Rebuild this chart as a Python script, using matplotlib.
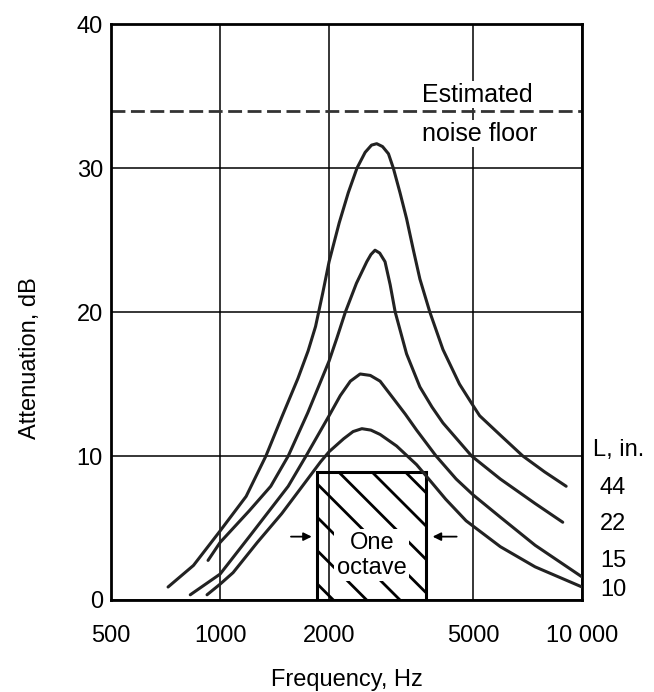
import matplotlib
matplotlib.use("Agg")
import matplotlib.pyplot as plt
from matplotlib.patches import Rectangle
from matplotlib.ticker import FixedLocator, FixedFormatter, NullLocator
import matplotlib.transforms as mtransforms

# curves: frequency (Hz) / attenuation (dB)
f44 = [718, 844, 1000, 1180, 1338, 1480, 1641, 1750, 1835, 1920, 2000, 2133, 2260,
       2388, 2516, 2620, 2708, 2810, 2918, 3010, 3140, 3274, 3420, 3564, 3797,
       4127, 4584, 5000, 5212, 5975, 6862, 7878, 9038]
d44 = [0.9, 2.4, 4.8, 7.2, 10.0, 12.7, 15.4, 17.3, 19.0, 21.3, 23.5, 26.2, 28.3,
       30.0, 31.1, 31.6, 31.7, 31.5, 31.0, 30.0, 28.3, 26.5, 24.3, 22.3, 20.0,
       17.4, 15.0, 13.5, 12.8, 11.4, 10.0, 8.9, 7.9]

f22 = [926, 1000, 1204, 1380, 1542, 1746, 2000, 2102, 2218, 2380, 2542, 2610, 2679,
       2760, 2855, 2950, 3046, 3274, 3564, 3850, 4127, 4953, 5947, 7419, 8843]
d22 = [2.75, 4.0, 6.2, 7.9, 10.0, 13.0, 16.6, 18.2, 20.0, 22.0, 23.5, 24.0, 24.3,
       24.1, 23.5, 21.9, 20.0, 17.1, 14.8, 13.4, 12.3, 10.0, 8.4, 6.7, 5.4]

f15 = [827, 1000, 1204, 1542, 1727, 2000, 2148, 2290, 2437, 2600, 2767, 3010,
       3250, 3490, 3951, 4490, 5000, 5947, 7419, 10000]
d15 = [0.36, 1.8, 4.4, 7.9, 10.0, 12.8, 14.2, 15.2, 15.7, 15.6, 15.2, 14.0,
       12.9, 11.8, 10.0, 8.4, 7.3, 5.75, 3.8, 1.6]

f10 = [920, 1000, 1086, 1267, 1480, 1675, 1895, 2000, 2194, 2330, 2464, 2610,
       2767, 3072, 3490, 3714, 4200, 4782, 5947, 7419, 10000]
d10 = [0.36, 1.1, 1.9, 4.0, 6.0, 7.8, 9.6, 10.3, 11.2, 11.7, 11.9, 11.8,
       11.5, 10.7, 9.4, 8.6, 7.0, 5.5, 3.7, 2.3, 0.9]

curve_labels = ["44", "22", "15", "10"]
label_levels = [7.8, 5.25, 2.7, 0.7]

noise_floor = 34.0
octave_band = [1850, 3700]
octave_height = 8.9

xticks = [500, 1000, 2000, 5000, 10000]
xticklabels = ["500", "1000", "2000", "5000", "10 000"]
yticks = [0, 10, 20, 30, 40]


def main():
    plt.rcParams["font.family"] = ["Liberation Sans", "DejaVu Sans"]
    plt.rcParams["hatch.linewidth"] = 2.0

    fig = plt.figure(figsize=(6.54, 6.92), dpi=100)
    ax = fig.add_axes([0.170, 0.133, 0.720, 0.832])

    ax.set_xscale("log")
    ax.set_xlim(500, 10000)
    ax.set_ylim(0, 40)

    ax.xaxis.set_major_locator(FixedLocator(xticks))
    ax.xaxis.set_major_formatter(FixedFormatter(xticklabels))
    ax.xaxis.set_minor_locator(NullLocator())
    ax.set_yticks(yticks)
    ax.tick_params(axis="both", length=0, labelsize=17)
    ax.tick_params(axis="x", pad=18)
    ax.tick_params(axis="y", pad=6)

    ax.grid(True, color="black", lw=1.1)
    ax.set_axisbelow(True)
    for sp in ax.spines.values():
        sp.set_linewidth(2)

    # noise floor
    ax.axhline(noise_floor, color="#333333", lw=2, ls=(0, (5, 2)))
    box = dict(facecolor="white", edgecolor="none", pad=1)
    ax.text(3623, 35.1, "Estimated", fontsize=18, ha="left", va="center",
            bbox=box, zorder=3)
    ax.text(3623, 32.4, "noise floor", fontsize=18, ha="left", va="center",
            bbox=box, zorder=3)

    # octave band
    ax.add_patch(Rectangle((octave_band[0], 0), octave_band[1] - octave_band[0],
                           octave_height, fill=False, hatch="\\", lw=2.2,
                           edgecolor="black", zorder=2))
    ax.text(2624, 3.1, "One\noctave", fontsize=17, ha="center", va="center",
            multialignment="center", linespacing=1.15,
            bbox=dict(facecolor="white", edgecolor="none", pad=2), zorder=3)
    arrow = dict(arrowstyle="-|>", color="black", lw=1.3, mutation_scale=12)
    ax.annotate("", xy=(1823, 4.4), xytext=(1542, 4.4), arrowprops=arrow, zorder=3)
    ax.annotate("", xy=(3797, 4.4), xytext=(4584, 4.4), arrowprops=arrow, zorder=3)

    # attenuation curves
    for f, d in [(f44, d44), (f22, d22), (f15, d15), (f10, d10)]:
        ax.plot(f, d, color="#222222", lw=2.2, solid_capstyle="round",
                solid_joinstyle="round", zorder=4)

    trans = mtransforms.blended_transform_factory(ax.transAxes, ax.transData)
    ax.text(1.023, 10.4, "L, in.", transform=trans, fontsize=17, va="center",
            ha="left", clip_on=False)
    for lab, lev in zip(curve_labels, label_levels):
        ax.text(1.038, lev, lab, transform=trans, fontsize=17, va="center",
                ha="left", clip_on=False)

    ax.set_xlabel("Frequency, Hz", fontsize=17, labelpad=16)
    ax.set_ylabel("Attenuation, dB", fontsize=17)
    ax.yaxis.set_label_coords(-0.15, 0.42)

    fig.savefig("out.png", dpi=100)


if __name__ == "__main__":
    main()
